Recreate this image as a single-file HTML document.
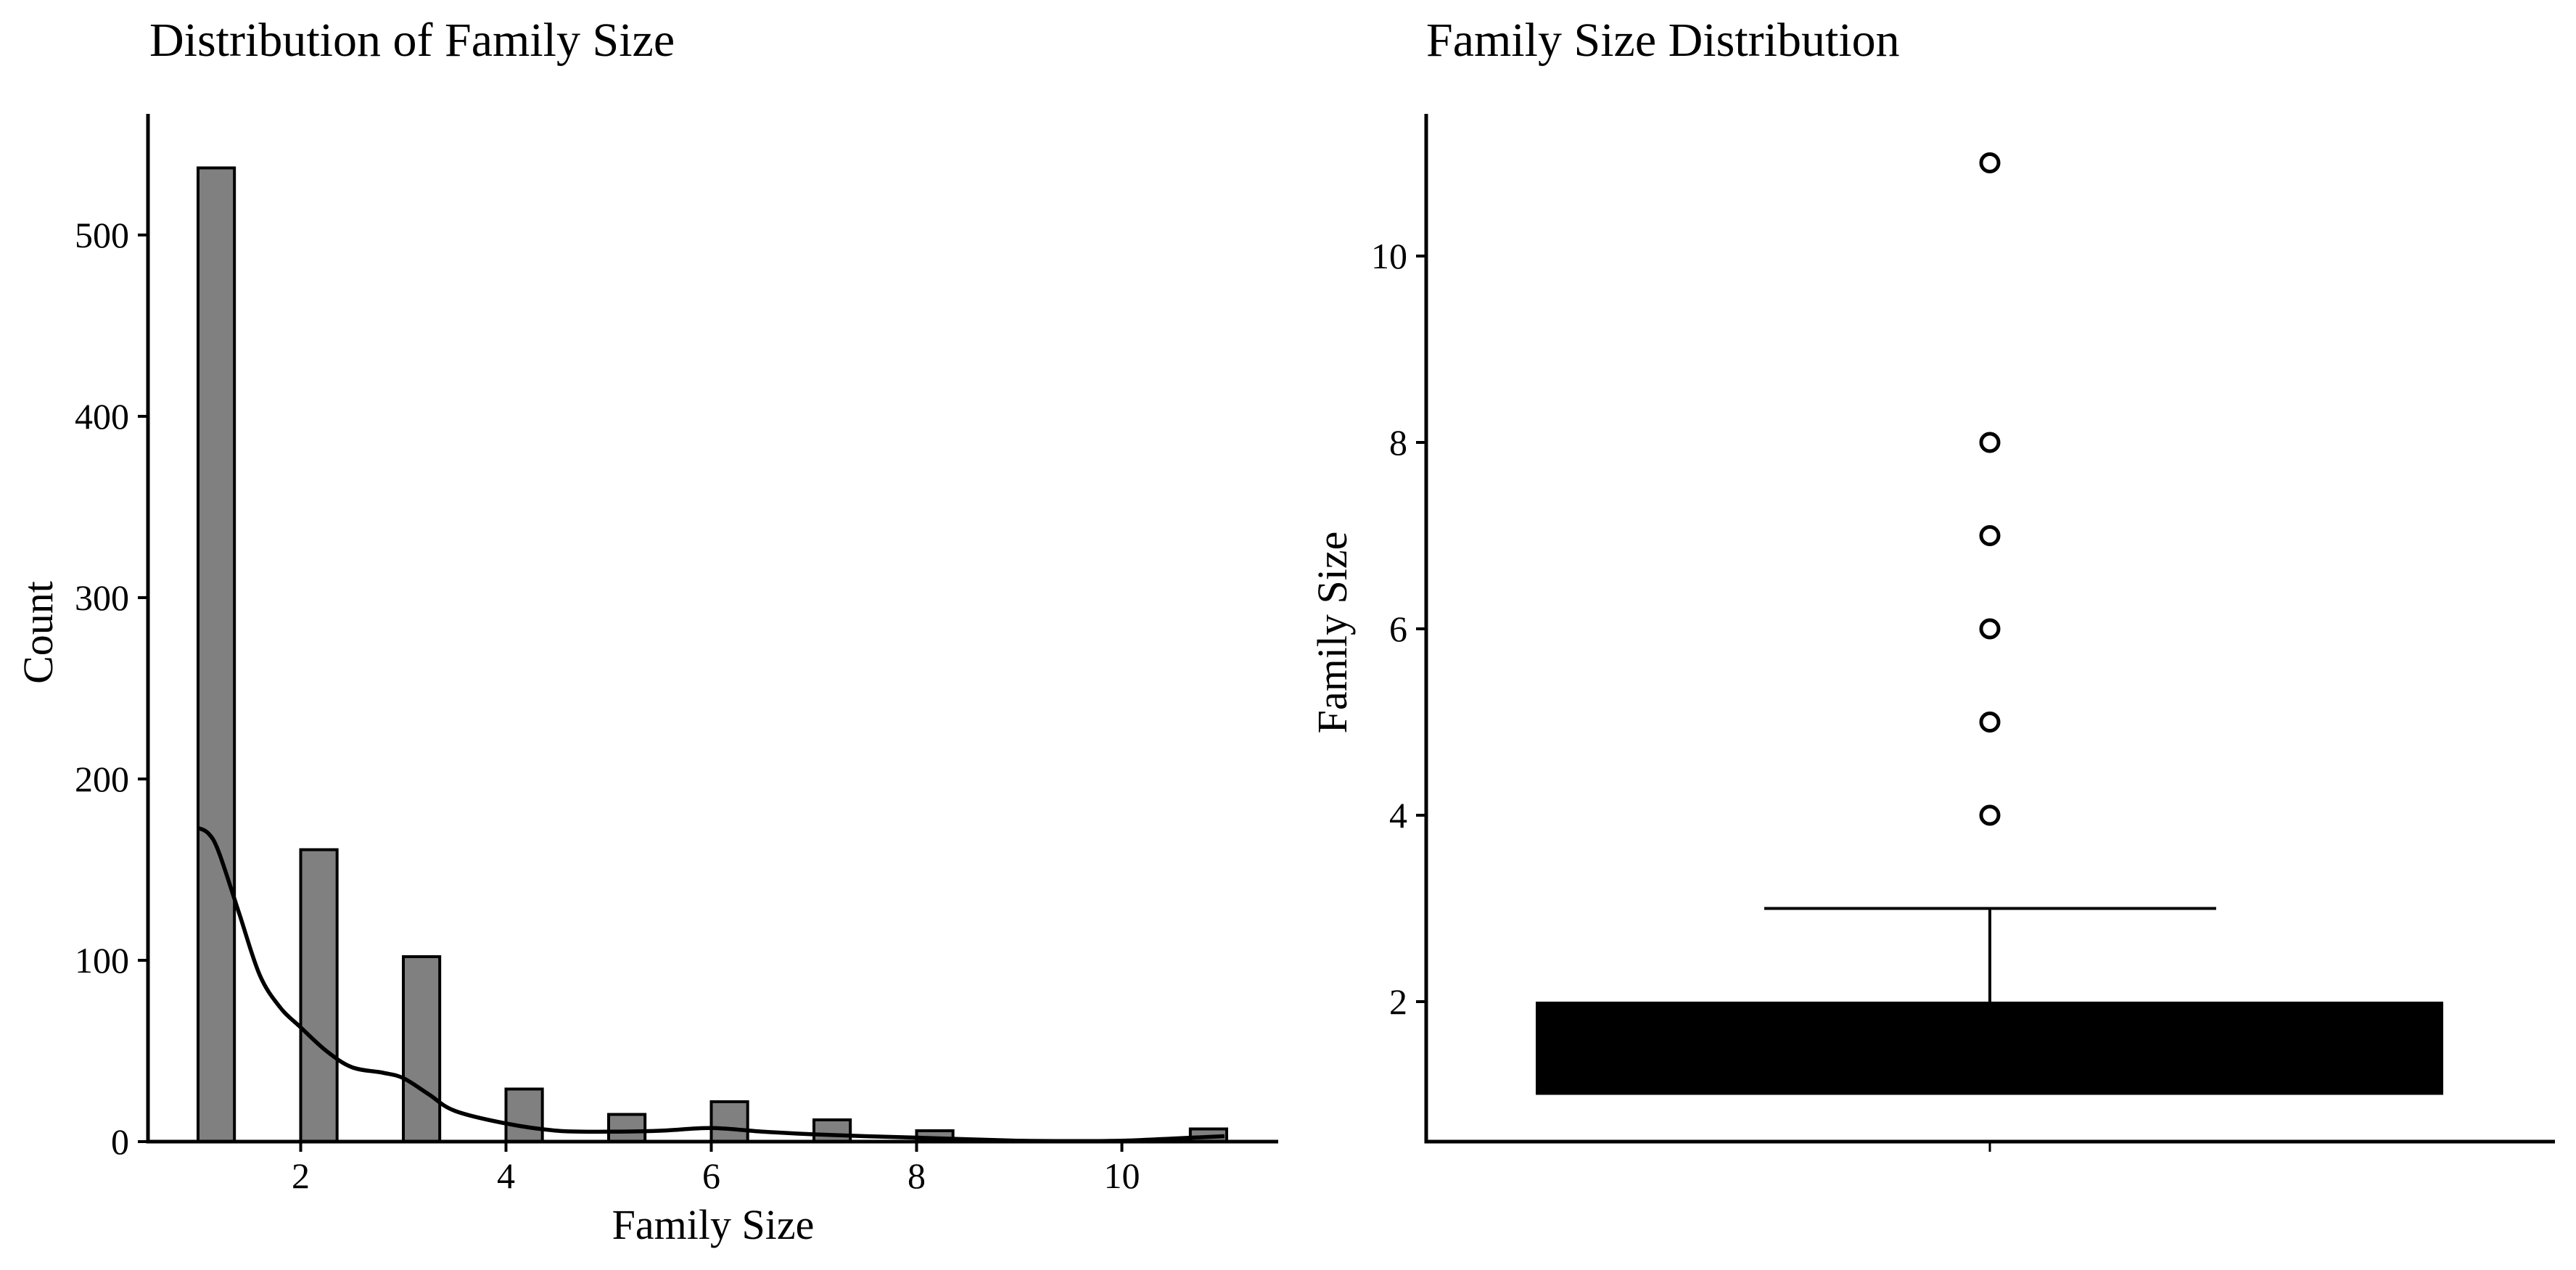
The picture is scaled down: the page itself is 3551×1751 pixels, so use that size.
<!DOCTYPE html>
<html><head><meta charset="utf-8"><style>
html,body{margin:0;padding:0;background:#fff;}
svg{display:block;font-family:"Liberation Serif",serif;}
</style></head><body>
<svg id="chart" width="3551" height="1751" viewBox="0 0 3551 1751" xmlns="http://www.w3.org/2000/svg">
<g id="left"></g>
<g id="right"></g>
</svg>
<script>
// Histogram data
const histCenters = [1, 2, 3, 4, 5, 6, 7, 8, 11];
const histCounts = [537, 161, 102, 29, 15, 22, 12, 6, 7];
const kdeX = [1, 1.1, 1.2, 1.4, 1.6, 1.8, 2, 2.25, 2.5, 2.8, 3, 3.25, 3.5, 4, 4.5, 5, 5.5, 6, 6.5, 7, 7.5, 8, 8.5, 9, 9.5, 10, 10.5, 11];
const kdeY = [173, 170, 160, 126, 92, 74, 63, 50, 41, 38, 35, 26, 17, 10, 6, 5.5, 6, 7.5, 5.5, 4, 3, 2.2, 1.3, 0.5, 0.3, 0.5, 1.7, 3];
const histYTicks = [0, 100, 200, 300, 400, 500];
const histXTicks = [2, 4, 6, 8, 10];
// Boxplot data
const boxQ1 = 1, boxMedian = 1, boxQ3 = 2, whiskLow = 1, whiskHigh = 3;
const outliers = [4, 5, 6, 7, 8, 11];
const boxYTicks = [2, 4, 6, 8, 10];

const NS = "http://www.w3.org/2000/svg";
function mk(parent, tag, attrs, text) {
  const e = document.createElementNS(NS, tag);
  for (const k in attrs) e.setAttribute(k, attrs[k]);
  if (text !== undefined) e.textContent = text;
  parent.appendChild(e);
  return e;
}
// ---------- Left panel ----------
const L = document.getElementById('left');
const lx = v => 273 + (v - 1) * 141.5;
const ly = v => 1574 - v * 2.5;
const binW = 1 / 3;
histCenters.forEach((c, i) => {
  const x0 = c === 11 ? 11 - binW : c;
  const r = mk(L, 'rect', {x: lx(x0), y: ly(histCounts[i]), width: lx(x0 + binW) - lx(x0) + 3, height: ly(0) - ly(histCounts[i]), fill: '#808080', stroke: '#000', 'stroke-width': 4});
  
  
});
// smooth curve via Catmull-Rom
const pts = kdeX.map((x, i) => [lx(x), ly(kdeY[i])]);
let d = 'M' + pts[0][0].toFixed(1) + ',' + pts[0][1].toFixed(1);
for (let i = 0; i < pts.length - 1; i++) {
  const p0 = pts[Math.max(0, i - 1)], p1 = pts[i], p2 = pts[i + 1], p3 = pts[Math.min(pts.length - 1, i + 2)];
  const c1 = [p1[0] + (p2[0] - p0[0]) / 6, p1[1] + (p2[1] - p0[1]) / 6];
  const c2 = [p2[0] - (p3[0] - p1[0]) / 6, p2[1] - (p3[1] - p1[1]) / 6];
  d += 'C' + c1.map(v => v.toFixed(1)).join(',') + ' ' + c2.map(v => v.toFixed(1)).join(',') + ' ' + p2.map(v => v.toFixed(1)).join(',');
}
const kp = mk(L, 'path', {d: d, fill: 'none', stroke: '#000', 'stroke-width': 5.5, 'stroke-linejoin': 'round'});


const lya = mk(L, 'line', {x1: 204, y1: 157, x2: 204, y2: 1576.5, stroke: '#000', 'stroke-width': 5});


const lxa = mk(L, 'line', {x1: 202, y1: 1574, x2: 1762, y2: 1574, stroke: '#000', 'stroke-width': 5});


histYTicks.forEach(t => {
  mk(L, 'line', {x1: 190, y1: ly(t), x2: 204, y2: ly(t), stroke: '#000', 'stroke-width': 4});
  const tx = mk(L, 'text', {x: 178, y: ly(t) + 17, 'font-size': 50, 'text-anchor': 'end'}, t);
  
  
});
histXTicks.forEach(t => {
  mk(L, 'line', {x1: lx(t), y1: 1574, x2: lx(t), y2: 1588, stroke: '#000', 'stroke-width': 4});
  const tx = mk(L, 'text', {x: lx(t), y: 1638, 'font-size': 50, 'text-anchor': 'middle'}, t);
  
  
});
const lt = mk(L, 'text', {x: 206, y: 77, 'font-size': 66}, 'Distribution of Family Size');


const lxl = mk(L, 'text', {x: 983, y: 1708, 'font-size': 58, 'text-anchor': 'middle'}, 'Family Size');


const lyl = mk(L, 'text', {x: 0, y: 0, 'font-size': 58, 'text-anchor': 'middle', transform: 'translate(72,872) rotate(-90)'}, 'Count');



// ---------- Right panel ----------
const R = document.getElementById('right');
const ry = v => 1381 - (v - 2) * 128.5;
const cx = 2743;
const wl = mk(R, 'line', {x1: cx, y1: ry(boxQ3), x2: cx, y2: ry(whiskHigh), stroke: '#000', 'stroke-width': 4});


const cap = mk(R, 'line', {x1: 2432, y1: ry(whiskHigh), x2: 3055, y2: ry(whiskHigh), stroke: '#000', 'stroke-width': 4});


const box = mk(R, 'rect', {x: 2117, y: ry(boxQ3), width: 3368 - 2117, height: ry(boxQ1) - ry(boxQ3), fill: '#000'});


outliers.forEach(o => {
  const c = mk(R, 'circle', {cx: cx, cy: ry(o), r: 12, fill: 'none', stroke: '#000', 'stroke-width': 5});
  
  
});
const rya = mk(R, 'line', {x1: 1966, y1: 157, x2: 1966, y2: 1576.5, stroke: '#000', 'stroke-width': 5});


const rxa = mk(R, 'line', {x1: 1964, y1: 1574, x2: 3522, y2: 1574, stroke: '#000', 'stroke-width': 5});


mk(R, 'line', {x1: cx, y1: 1574, x2: cx, y2: 1588, stroke: '#000', 'stroke-width': 3});
boxYTicks.forEach(t => {
  mk(R, 'line', {x1: 1952, y1: ry(t), x2: 1966, y2: ry(t), stroke: '#000', 'stroke-width': 4});
  const tx = mk(R, 'text', {x: 1940, y: ry(t) + 17, 'font-size': 50, 'text-anchor': 'end'}, t);
  
  
});
const rt = mk(R, 'text', {x: 1966, y: 77, 'font-size': 66}, 'Family Size Distribution');


const ryl = mk(R, 'text', {x: 0, y: 0, 'font-size': 58, 'text-anchor': 'middle', transform: 'translate(1856,872) rotate(-90)'}, 'Family Size');


</script>
</body></html>
